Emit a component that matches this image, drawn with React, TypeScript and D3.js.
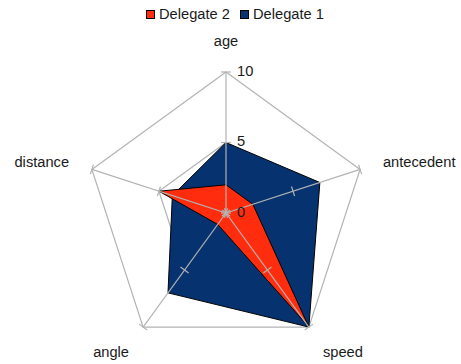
import React from "react";
import * as d3 from "d3";

// Axes of the radar chart, clockwise from the top
const categories = ["age", "antecedent", "speed", "angle", "distance"];
const delegate1 = [5, 7, 10, 7, 4];
const delegate2 = [2, 2, 10, 1, 5];
const tickValues = [0, 5, 10];
const gridLevels = [5, 10];

const series = [
  { name: "Delegate 1", values: delegate1, color: "#06326f" },
  { name: "Delegate 2", values: delegate2, color: "#ff2d0e" },
];
const legendOrder = ["Delegate 2", "Delegate 1"];

const W = 461;
const H = 364;
const cx = 226;
const cy = 213;
const R = 141;
const FONT = "'Liberation Sans', Arial, sans-serif";
const GRID = "#b3b3b3";

export default function App() {
  const r = d3.scaleLinear().domain([0, 10]).range([0, R]);
  const angle = d3
    .scaleLinear()
    .domain([0, categories.length])
    .range([0, 2 * Math.PI]);

  const radial = (v: number, i: number): [number, number] => {
    const a = angle(i);
    return [cx + r(v) * Math.sin(a), cy - r(v) * Math.cos(a)];
  };

  const line = d3
    .lineRadial<number>()
    .angle((_, i) => angle(i))
    .radius((d) => r(d))
    .curve(d3.curveLinearClosed);

  const gridPath = (level: number) =>
    line(categories.map(() => level)) as string;

  const tickHalf = 5;

  return (
    <svg
      width={W}
      height={H}
      style={{ position: "absolute", left: 0, top: 0, background: "#fff" }}
      fontFamily={FONT}
    >
      {/* grid polygons */}
      <g transform={`translate(${cx},${cy})`}>
        {gridLevels.map((lv) => (
          <path key={lv} d={gridPath(lv)} fill="none" stroke={GRID} strokeWidth={1.2} />
        ))}
      </g>

      {/* series areas */}
      <g transform={`translate(${cx},${cy})`}>
        {series.map((s) => (
          <path
            key={s.name}
            d={line(s.values) as string}
            fill={s.color}
            stroke="#000"
            strokeWidth={1}
            strokeLinejoin="miter"
          />
        ))}
      </g>

      {/* spokes and tick marks */}
      <g>
        {categories.map((c, i) => {
          const [x1, y1] = radial(10, i);
          const a = angle(i);
          const px = Math.cos(a);
          const py = Math.sin(a);
          return (
            <g key={c}>
              <line x1={cx} y1={cy} x2={x1} y2={y1} stroke={GRID} strokeWidth={1.2} />
              {tickValues.map((t) => {
                const [tx, ty] = radial(t, i);
                return (
                  <line
                    key={t}
                    x1={tx - px * tickHalf}
                    y1={ty - py * tickHalf}
                    x2={tx + px * tickHalf}
                    y2={ty + py * tickHalf}
                    stroke={GRID}
                    strokeWidth={1.2}
                  />
                );
              })}
            </g>
          );
        })}
      </g>

      {/* value labels along the first axis */}
      {tickValues.map((t) => {
        const [x, y] = radial(t, 0);
        return (
          <text key={t} x={x + 11} y={y + 3.5} fontSize={14.67} fill="#1a1a1a">
            {t}
          </text>
        );
      })}

      {/* category labels */}
      {categories.map((c, i) => {
        const a = angle(i);
        const sx = Math.sin(a);
        const sy = -Math.cos(a);
        const x = cx + (R + 24) * sx;
        const y = cy + (R + 24) * sy;
        const anchor = Math.abs(sx) < 0.1 ? "middle" : sx > 0 ? "start" : "end";
        let by = y + 4.5;
        if (sy < -0.5) by = y - 2;
        else if (sy > 0.5) by = y + 10.5;
        return (
          <text key={c} x={x} y={by} textAnchor={anchor} fontSize={14.67} fill="#1a1a1a">
            {c}
          </text>
        );
      })}

      {/* legend */}
      {legendOrder.map((name, k) => {
        const s = series.find((d) => d.name === name)!;
        const x0 = k === 0 ? 146 : 240;
        return (
          <g key={name}>
            <rect x={x0 + 0.5} y={10.5} width={8} height={8} fill={s.color} stroke="#000" strokeWidth={1} />
            <text x={x0 + 13} y={19} fontSize={14.67} fill="#1a1a1a">
              {name}
            </text>
          </g>
        );
      })}
    </svg>
  );
}
